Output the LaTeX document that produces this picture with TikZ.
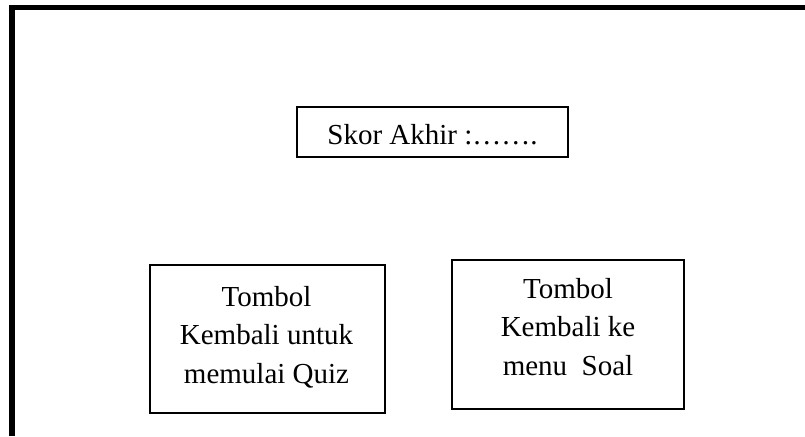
\documentclass[tikz,border=0pt]{standalone}
\usepackage{fontspec}
\setmainfont{Liberation Serif}
\begin{document}
\begin{tikzpicture}[x=1pt,y=-1pt,
  frameline/.style={line width=5.5pt,line join=miter},
  panel/.style={draw,line width=1.3pt,inner sep=0pt},
  label/.style={font=\fontsize{29}{38.5}\selectfont,align=center,inner sep=0pt}]
  \useasboundingbox (0,0) rectangle (805,436);
  % outer screen frame, open at the right and bottom
  \coordinate (fbl) at (12,436);
  \coordinate (ftl) at (12,7.5);
  \coordinate (ftr) at (805,7.5);
  \draw[frameline] (fbl) -- (ftl) -- (ftr);
  % score field
  \node[panel,minimum width=271pt,minimum height=50pt] (skor) at (432.5,132) {};
  \node[label] (skort) at (432.5,135) {Skor Akhir :…….};
  % buttons
  \node[panel,minimum width=235pt,minimum height=148pt] (quiz) at (267.5,339) {};
  \node[label] (quizt) at (266.5,337) {Tombol\\Kembali untuk\\memulai Quiz};
  \node[panel,minimum width=232pt,minimum height=149pt] (soal) at (568,334.5) {};
  \node[label] (soalt) at (568,327) {Tombol\\Kembali ke\\menu\ \ Soal};
\end{tikzpicture}
\end{document}
